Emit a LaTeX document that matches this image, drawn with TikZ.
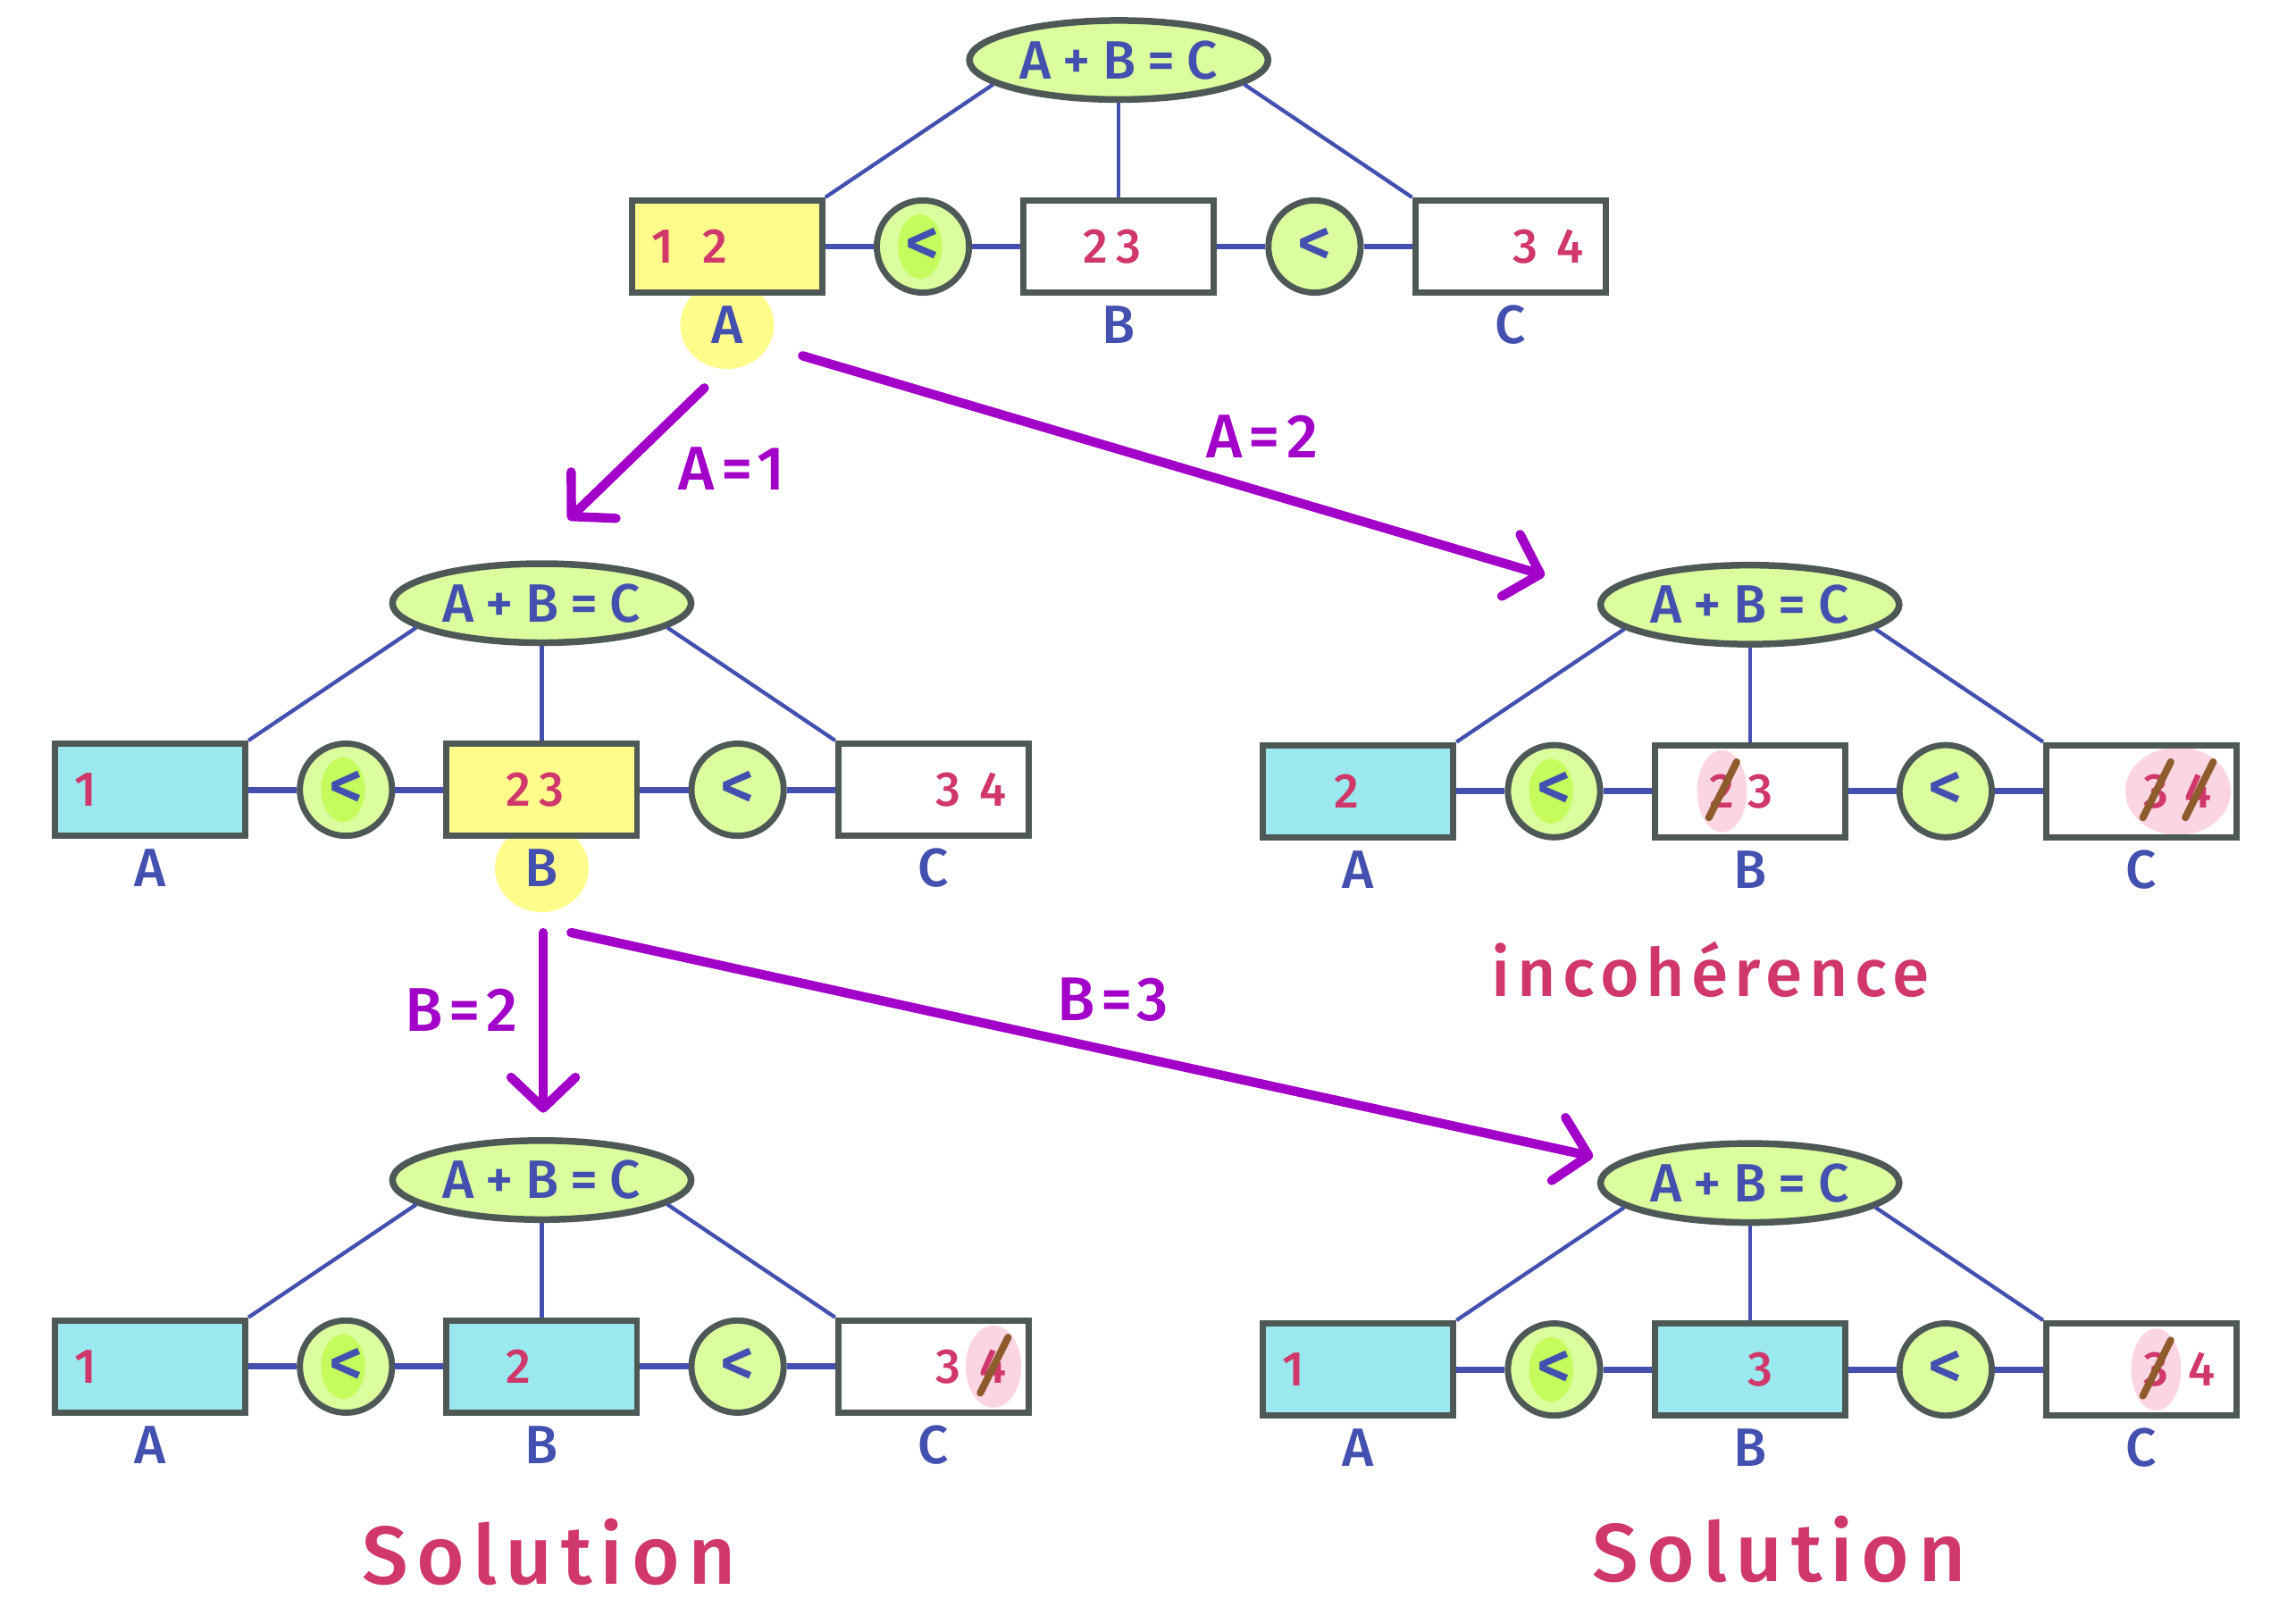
\documentclass[tikz,border=0pt]{standalone}
\usepackage{fontspec}
\setmainfont{Fira Sans}
\newfontfamily\inkfont[UprightFont=* Medium]{Fira Sans}
\newfontfamily\inkspaced[LetterSpace=10,UprightFont=* Medium]{Fira Sans}
\newfontfamily\inkwide[LetterSpace=22,UprightFont=* Medium]{Fira Sans}
\usetikzlibrary{arrows.meta,positioning,shapes.geometric,backgrounds}
\definecolor{inkblue}{HTML}{4350AF}
\definecolor{inkred}{HTML}{D0376A}
\definecolor{inkpurple}{HTML}{A200C8}
\definecolor{inkbrown}{HTML}{8E5B2C}
\definecolor{rimgray}{HTML}{4E5957}
\definecolor{lime}{HTML}{DBFD9E}
\definecolor{limedeep}{HTML}{C5FB5C}
\definecolor{hlyellow}{HTML}{FFFC8C}
\definecolor{hlcyan}{HTML}{9CE8EF}
\definecolor{hlpink}{HTML}{FBD5E1}
\tikzset{
  constraint/.style = {ellipse,draw=rimgray,line width=1.3pt,fill=lime,
                       minimum width=2.04cm,minimum height=0.54cm,inner sep=0pt,
                       font=\inkwide\fontsize{10.5}{12}\selectfont,text=inkblue},
  varbox/.style     = {rectangle,draw=rimgray,line width=1.2pt,
                       minimum width=1.3cm,minimum height=0.63cm,inner sep=0pt},
  ltnode/.style     = {circle,draw=rimgray,line width=1.2pt,fill=lime,
                       minimum size=0.63cm,inner sep=0pt,text=inkblue,
                       font=\inkfont\fontsize{13}{14}\selectfont},
  ltfirst/.style    = {ltnode,path picture={\fill[limedeep]
                       ([xshift=-0.02cm]path picture bounding box.center)
                       ellipse (0.15cm and 0.22cm);}},
  varname/.style    = {font=\inkfont\fontsize{10.5}{12}\selectfont,text=inkblue,inner sep=0pt},
  digit/.style      = {font=\inkfont\fontsize{9.5}{10}\selectfont,text=inkred,inner sep=0pt},
  link/.style       = {inkblue,line width=0.75pt},
  hlink/.style      = {inkblue,line width=1.2pt},
  branch/.style     = {-{Straight Barb[length=2.1mm,width=4.4mm,round]},
                       inkpurple,line width=1.8pt,line cap=round},
  branchlbl/.style  = {font=\inkspaced\fontsize{12}{14}\selectfont,text=inkpurple,inner sep=0pt},
  strike/.style     = {inkbrown,line width=1.4pt,line cap=round},
  verdict/.style    = {text=inkred,inner sep=0pt}
}
% #1 name prefix, #2 place of the constraint, #3 fill of A, #4 fill of B
\newcommand{\cspnet}[4]{%
  \node[constraint] (#1e) at (#2) {A+B=C};
  \node[varbox,fill=#4,below=0.645cm of #1e] (#1b) {};
  \node[ltfirst,left=0.33cm of #1b] (#1l) {<};
  \node[varbox,fill=#3,left=0.33cm of #1l] (#1a) {};
  \node[ltnode,right=0.33cm of #1b] (#1r) {<};
  \node[varbox,right=0.33cm of #1r] (#1c) {};
  \node[varname] (#1na) at ([yshift=-0.2cm]#1a.south) {A};
  \node[varname] (#1nb) at ([yshift=-0.2cm]#1b.south) {B};
  \node[varname] (#1nc) at ([yshift=-0.2cm]#1c.south) {C};
  \draw[link] (#1e.191) -- (#1a.north east);
  \draw[link] (#1e) -- (#1b);
  \draw[link] (#1e.349) -- (#1c.north west);
  \draw[hlink] (#1a) -- (#1l);
  \draw[hlink] (#1l) -- (#1b);
  \draw[hlink] (#1b) -- (#1r);
  \draw[hlink] (#1r) -- (#1c);
}
% #1 name, #2 box, #3 offset in the box, #4 value
\newcommand{\dval}[4]{\node[digit] (#1) at ([xshift=#3]#2.center) {#4};}
\newcommand{\crossout}[1]{%
  \draw[strike] ([xshift=-0.09cm,yshift=-0.18cm]#1.center) -- ([xshift=0.1cm,yshift=0.2cm]#1.center);}

\begin{document}
\begin{tikzpicture}
  \useasboundingbox (0,0) rectangle (15.68,10.97);

  % root: choose A
  \cspnet{t1}{7.64,10.56}{hlyellow}{none}
  \dval{t1a1}{t1a}{-0.44cm}{1}
  \dval{t1a2}{t1a}{-0.08cm}{2}
  \dval{t1b2}{t1b}{-0.16cm}{2}
  \dval{t1b3}{t1b}{0.07cm}{3}
  \dval{t1c3}{t1c}{0.10cm}{3}
  \dval{t1c4}{t1c}{0.41cm}{4}

  % A=1, choose B
  \cspnet{t2}{3.70,6.85}{hlcyan}{hlyellow}
  \dval{t2a1}{t2a}{-0.44cm}{1}
  \dval{t2b2}{t2b}{-0.16cm}{2}
  \dval{t2b3}{t2b}{0.07cm}{3}
  \dval{t2c3}{t2c}{0.10cm}{3}
  \dval{t2c4}{t2c}{0.41cm}{4}

  % A=2
  \cspnet{t3}{11.95,6.84}{hlcyan}{none}
  \dval{t3a2}{t3a}{-0.08cm}{2}
  \dval{t3b2}{t3b}{-0.19cm}{2}
  \dval{t3b3}{t3b}{0.07cm}{3}
  \dval{t3c3}{t3c}{0.10cm}{3}
  \dval{t3c4}{t3c}{0.39cm}{4}
  \crossout{t3b2}
  \crossout{t3c3}
  \crossout{t3c4}
  \node[verdict,font=\inkspaced\fontsize{13}{15}\selectfont] (v3) at (11.68,4.35) {incohérence};

  % B=2
  \cspnet{t4}{3.70,2.91}{hlcyan}{hlcyan}
  \dval{t4a1}{t4a}{-0.44cm}{1}
  \dval{t4b2}{t4b}{-0.16cm}{2}
  \dval{t4c3}{t4c}{0.10cm}{3}
  \dval{t4c4}{t4c}{0.41cm}{4}
  \crossout{t4c4}
  \node[verdict,font=\inkspaced\fontsize{16}{18}\selectfont] (v4) at (3.75,0.37) {Solution};

  % B=3
  \cspnet{t5}{11.95,2.89}{hlcyan}{hlcyan}
  \dval{t5a1}{t5a}{-0.44cm}{1}
  \dval{t5b3}{t5b}{0.07cm}{3}
  \dval{t5c3}{t5c}{0.10cm}{3}
  \dval{t5c4}{t5c}{0.41cm}{4}
  \crossout{t5c3}
  \node[verdict,font=\inkspaced\fontsize{16}{18}\selectfont] (v5) at (12.15,0.39) {Solution};

  % branches
  \coordinate (p1s) at (4.81,8.32);
  \coordinate (p1e) at (3.88,7.42);
  \coordinate (p2s) at (5.48,8.54);
  \coordinate (p2e) at (10.55,7.04);
  \coordinate (p3s) at (3.71,4.60);
  \coordinate (p3e) at (3.71,3.37);
  \coordinate (p4s) at (3.90,4.60);
  \coordinate (p4e) at (10.88,3.07);
  \draw[branch] (p1s) -- (p1e);
  \draw[branch] (p2s) -- (p2e);
  \draw[branch] (p3s) -- (p3e);
  \draw[branch] (p4s) -- (p4e);
  \node[branchlbl] (b1) at (5.00,7.77) {A=1};
  \node[branchlbl] (b2) at (8.62,7.99) {A=2};
  \node[branchlbl] (b3) at (3.15,4.07) {B=2};
  \node[branchlbl] (b4) at (7.60,4.14) {B=3};

  % highlights behind
  \begin{pgfonlayer}{background}
    \fill[hlyellow] (t1na) ellipse (0.32cm and 0.3cm);
    \fill[hlyellow] (t2nb) ellipse (0.32cm and 0.3cm);
    \fill[hlpink] (t3b2) ellipse (0.17cm and 0.28cm);
    \fill[hlpink] ([xshift=0.15cm]t3c3) ellipse (0.36cm and 0.3cm);
    \fill[hlpink] (t4c4) ellipse (0.19cm and 0.28cm);
    \fill[hlpink] (t5c3) ellipse (0.17cm and 0.28cm);
  \end{pgfonlayer}
\end{tikzpicture}
\end{document}
